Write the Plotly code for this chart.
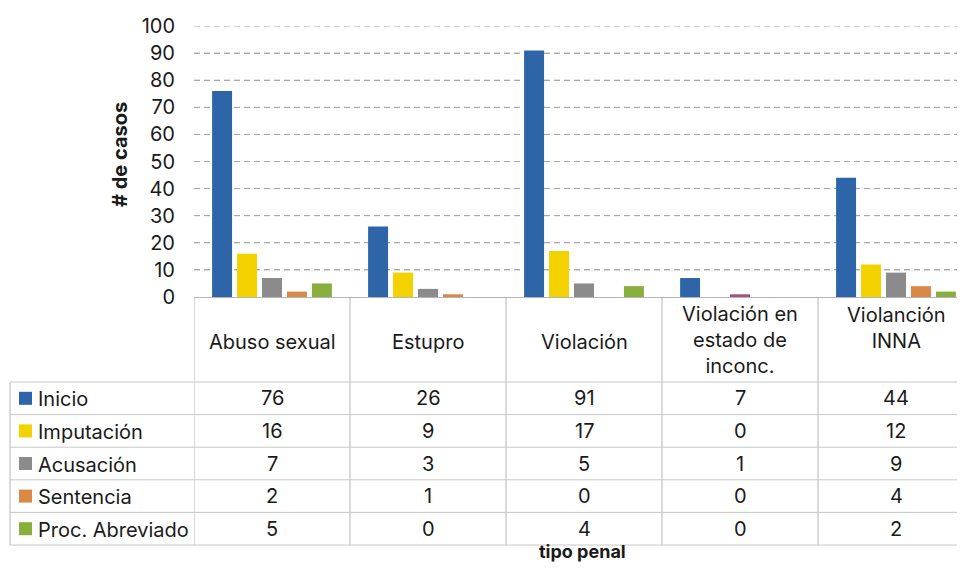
import plotly.graph_objects as go

categories = ["Abuso sexual", "Estupro", "Violación", "Violación en<br>estado de<br>inconc.", "Violanción<br>INNA"]
series_names = ["Inicio", "Imputación", "Acusación", "Sentencia", "Proc. Abreviado"]
inicio = [76, 26, 91, 7, 44]
imputacion = [16, 9, 17, 0, 12]
acusacion = [7, 3, 5, 1, 9]
sentencia = [2, 1, 0, 0, 4]
proc_abreviado = [5, 0, 4, 0, 2]
y_ticks = [0, 10, 20, 30, 40, 50, 60, 70, 80, 90, 100]

series_values = [inicio, imputacion, acusacion, sentencia, proc_abreviado]
colors = ["#2E64A8", "#F3D200", "#8B8B8B", "#DA8846", "#88AF3B"]
acus_colors = ["#8B8B8B", "#8B8B8B", "#8B8B8B", "#A9507F", "#8B8B8B"]

# the page body has an 8px margin: size the figure to fit inside the window
OFF = 8
W, H = 965 - 2 * OFF, 573 - 2 * OFF
FONT = "Inter"
TXT = "#1a1a1a"
LINE = "#B4B4B4"
GRID = "#A8A8A8"

def X(px):
    return (px - OFF) / W

def Y(py):
    return 1 - (py - OFF) / H

fig = go.Figure()
xs = list(range(len(categories)))
for name, vals, col in zip(series_names, series_values, colors):
    mc = acus_colors if name == "Acusación" else col
    fig.add_trace(go.Bar(x=xs, y=vals, name=name, marker=dict(color=mc, line=dict(width=0)),
                         showlegend=False))

shapes = []
annotations = []

plot_top, plot_bottom = 26, 297
header_bottom = 382
row_h = 32.6
row_lines = [header_bottom + row_h * k for k in range(len(series_names) + 1)]

col_w = 156.0
x_left = 194
x_range_max = -0.5 + (W + OFF - x_left) / col_w

# dashed gridlines behind the bars
for t in y_ticks[1:]:
    shapes.append(dict(type="line", xref="x", yref="y", x0=-0.5, x1=x_range_max, y0=t, y1=t,
                       layer="below", line=dict(color=GRID, width=1, dash="6px,4px")))

for k in range(len(categories)):
    shapes.append(dict(type="line", xref="x", yref="paper", x0=k - 0.5, x1=k - 0.5,
                       y0=Y(plot_bottom), y1=Y(row_lines[-1]), line=dict(color=LINE, width=1)))
shapes.append(dict(type="line", xref="paper", yref="paper", x0=X(10), x1=X(10),
                   y0=Y(header_bottom), y1=Y(row_lines[-1]), line=dict(color=LINE, width=1)))
for ry in row_lines:
    shapes.append(dict(type="line", xref="paper", yref="paper", x0=X(10), x1=1,
                       y0=Y(ry), y1=Y(ry), line=dict(color="#C8C8C8", width=1)))

header_y = [342, 342, 342, 340, 328]
for i, (cat, hy) in enumerate(zip(categories, header_y)):
    annotations.append(dict(x=i, y=Y(hy), xref="x", yref="paper", text=cat, showarrow=False,
                            xanchor="center", yanchor="middle",
                            font=dict(family=FONT, size=20, color=TXT)))

for r, (name, vals, col) in enumerate(zip(series_names, series_values, colors)):
    cy = (row_lines[r] + row_lines[r + 1]) / 2
    shapes.append(dict(type="rect", xref="paper", yref="paper", x0=X(19), x1=X(32),
                       y0=Y(cy + 6.5), y1=Y(cy - 6.5), fillcolor=col, line=dict(width=0)))
    annotations.append(dict(x=X(36), y=Y(cy + 1), xref="paper", yref="paper", text=name,
                            showarrow=False, xanchor="left", yanchor="middle",
                            font=dict(family=FONT, size=20, color=TXT)))
    for i, v in enumerate(vals):
        annotations.append(dict(x=i, y=Y(cy), xref="x", yref="paper", text=str(v),
                                showarrow=False, xanchor="center", yanchor="middle",
                                font=dict(family=FONT, size=20, color=TXT)))

annotations.append(dict(x=X(120), y=Y(155), xref="paper", yref="paper", text="<b># de casos</b>",
                        textangle=-90, showarrow=False, xanchor="center", yanchor="middle",
                        font=dict(family=FONT, size=20, color=TXT)))
annotations.append(dict(x=X(582), y=Y(551), xref="paper", yref="paper", text="<b>tipo penal</b>",
                        showarrow=False, xanchor="center", yanchor="middle",
                        font=dict(family=FONT, size=18, color=TXT)))

fig.update_layout(
    width=W, height=H, autosize=False,
    margin=dict(l=0, r=0, t=0, b=0, pad=0, autoexpand=False),
    paper_bgcolor="white", plot_bgcolor="rgba(0,0,0,0)",
    barmode="group", bargap=0.2, bargroupgap=0.2,
    shapes=shapes, annotations=annotations,
    font=dict(family=FONT, color=TXT),
    xaxis=dict(domain=[X(x_left), 1], range=[-0.5, x_range_max], showticklabels=False,
               showgrid=False, zeroline=False, showline=True, linecolor="#B4B4B4", linewidth=1,
               ticks="", automargin=False),
    yaxis=dict(domain=[Y(plot_bottom), Y(plot_top)], range=[0, 100], tickvals=y_ticks,
               showgrid=True, gridcolor=GRID, griddash="6px,4px", gridwidth=1,
               layer="below traces",
               zeroline=False, showline=False, ticks="", ticklabelstandoff=18,
               automargin=False, tickfont=dict(family=FONT, size=20, color=TXT)),
)

fig.write_html("out.html", config={"displayModeBar": False})
